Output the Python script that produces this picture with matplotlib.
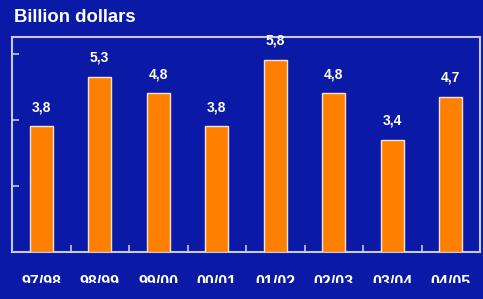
import matplotlib
matplotlib.use("Agg")
import matplotlib.pyplot as plt
from matplotlib.patches import Rectangle
import numpy as np

categories = ["97/98", "98/99", "99/00", "00/01", "01/02", "02/03", "03/04", "04/05"]
values = [3.8, 5.3, 4.8, 3.8, 5.8, 4.8, 3.4, 4.7]
value_labels = ["3,8", "5,3", "4,8", "3,8", "5,8", "4,8", "3,4", "4,7"]
title = "Billion dollars"

bg = "#0A1AA6"
frame = "#C8C8E6"

fig = plt.figure(figsize=(4.83, 2.99), dpi=100, facecolor=bg)
ax = fig.add_axes([12/483, 47/299, 468/483, 215/299])
ax.set_facecolor(bg)

x = np.arange(len(categories))
ax.bar(x, values, width=0.4, color="#FF8000", edgecolor="#F4E6D8", linewidth=1.0, zorder=3)
for xi, v, lab in zip(x, values, value_labels):
    ax.text(xi, v + 0.58, lab, ha="center", va="center", color="white",
            fontsize=10, fontweight="bold", family="Liberation Sans")

ax.set_xlim(-0.5, len(categories) - 0.5)
ax.set_ylim(0, 6.5)
ax.set_yticks([2, 4, 6])
ax.set_yticklabels([])
ax.set_xticks(x)
ax.set_xticklabels([])
ax.set_xticks(np.arange(0.5, len(categories) - 0.5, 1.0), minor=True)
ax.tick_params(axis="x", which="major", length=0)
ax.tick_params(axis="x", which="minor", direction="in", length=5, color=frame, width=1.2)
ax.tick_params(axis="y", direction="in", length=5, color=frame, width=1.2)
for s in ax.spines.values():
    s.set_color(frame)
    s.set_linewidth(1.5)

for xi, c in zip(x, categories):
    ax.text(xi, -23/215, c, transform=ax.get_xaxis_transform(), ha="center", va="top",
            color="white", fontsize=11.5, fontweight="bold", family="Liberation Sans")

# the bottom of the category labels is cut off in the reference
fig.patches.append(Rectangle((0, 0), 1, 16/299, transform=fig.transFigure,
                             facecolor=bg, edgecolor="none", zorder=10))

fig.text(14/483, 1 - 17/299, title, ha="left", va="center", color="white",
         fontsize=13.3, fontweight="bold", family="Liberation Sans")

fig.savefig("out.png", dpi=100, facecolor=bg)
